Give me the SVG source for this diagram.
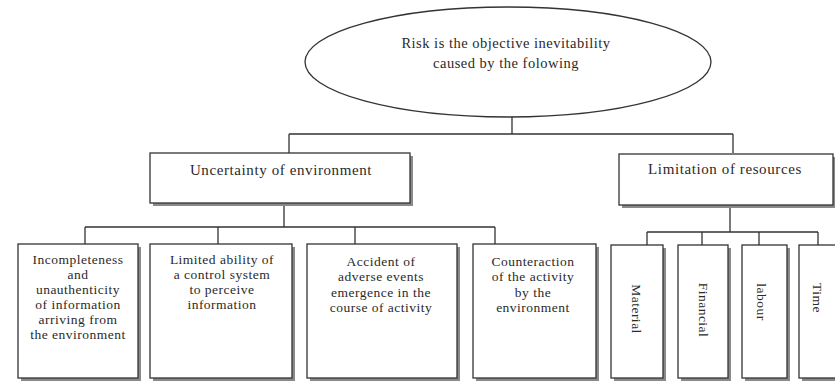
<svg xmlns="http://www.w3.org/2000/svg" width="835" height="381" viewBox="0 0 835 381">
<style>
.t{font-family:"Liberation Serif","Times New Roman",serif;font-size:13.5px;letter-spacing:0.5px;fill:#2a2a2a;text-anchor:middle}
.h{font-size:15px;letter-spacing:0.6px}
.e{font-size:14.5px;letter-spacing:0.5px}
.b{fill:#fff;stroke:#333;stroke-width:1.3}
.s{fill:#8a8a8a}
.c{stroke:#333;stroke-width:1.3;fill:none}
</style>
<rect width="835" height="381" fill="#fff"/>
<g id="connectors">
<path class="c" d="M512 117V134M289 134H733M289 134V153M733 134V153"/>
<path class="c" d="M284 203V227M85 227H495M85 227V244M218 227V244M355 227V244M495 227V244"/>
<path class="c" d="M730 204V232M647 232H818M647 232V245M702 232V245M759 232V245M818 232V245"/>
</g>
<g id="root">
<ellipse cx="508" cy="62" rx="203" ry="55" fill="#fff" stroke="#333" stroke-width="1.3"/>
<text class="t e" x="506" y="48">Risk is the objective inevitability</text>
<text class="t e" x="506" y="68">caused by the folowing</text>
</g>
<g id="uncertainty">
<rect class="s" x="153" y="156" width="260" height="50"/>
<rect class="b" x="150" y="153" width="260" height="50"/>
<text class="t h" x="281" y="175">Uncertainty of environment</text>
</g>
<g id="limitation">
<rect class="s" x="622" y="157" width="214" height="51"/>
<rect class="b" x="619" y="154" width="214" height="51"/>
<text class="t h" x="725" y="174">Limitation of resources</text>
</g>
<g id="n1">
<rect class="s" x="21" y="247" width="120" height="134"/>
<rect class="b" x="18" y="244" width="120" height="134"/>
<text class="t" x="78"><tspan x="78" y="264">Incompleteness</tspan><tspan x="78" y="279">and</tspan><tspan x="78" y="294">unauthenticity</tspan><tspan x="78" y="309">of information</tspan><tspan x="78" y="324">arriving from</tspan><tspan x="78" y="339">the environment</tspan></text>
</g>
<g id="n2">
<rect class="s" x="153" y="247" width="142" height="134"/>
<rect class="b" x="150" y="244" width="142" height="134"/>
<text class="t" x="222"><tspan x="222" y="264">Limited ability of</tspan><tspan x="222" y="279">a control system</tspan><tspan x="222" y="294">to perceive</tspan><tspan x="222" y="309">information</tspan></text>
</g>
<g id="n3">
<rect class="s" x="310" y="247" width="150" height="134"/>
<rect class="b" x="307" y="244" width="150" height="134"/>
<text class="t" x="381"><tspan x="381" y="266">Accident of</tspan><tspan x="381" y="281">adverse events</tspan><tspan x="381" y="297">emergence in the</tspan><tspan x="381" y="312">course of activity</tspan></text>
</g>
<g id="n4">
<rect class="s" x="476" y="247" width="123" height="134"/>
<rect class="b" x="473" y="244" width="123" height="134"/>
<text class="t" x="533"><tspan x="533" y="266">Counteraction</tspan><tspan x="533" y="281">of the activity</tspan><tspan x="533" y="297">by the</tspan><tspan x="533" y="312">environment</tspan></text>
</g>
<g id="material">
<rect class="s" x="614" y="248" width="52" height="133"/>
<rect class="b" x="611" y="245" width="52" height="133"/>
<text class="t" transform="translate(637 309) rotate(90)" y="5">Material</text>
</g>
<g id="financial">
<rect class="s" x="681" y="248" width="50" height="133"/>
<rect class="b" x="678" y="245" width="50" height="133"/>
<text class="t" transform="translate(704 310) rotate(90)" y="5">Financial</text>
</g>
<g id="labour">
<rect class="s" x="745" y="248" width="45" height="133"/>
<rect class="b" x="742" y="245" width="45" height="133"/>
<text class="t" transform="translate(762 302) rotate(90)" y="5">labour</text>
</g>
<g id="time">
<rect class="s" x="802" y="248" width="50" height="133"/>
<rect class="b" x="799" y="245" width="50" height="133"/>
<text class="t" transform="translate(818 298) rotate(90)" y="5">Time</text>
</g>
</svg>
